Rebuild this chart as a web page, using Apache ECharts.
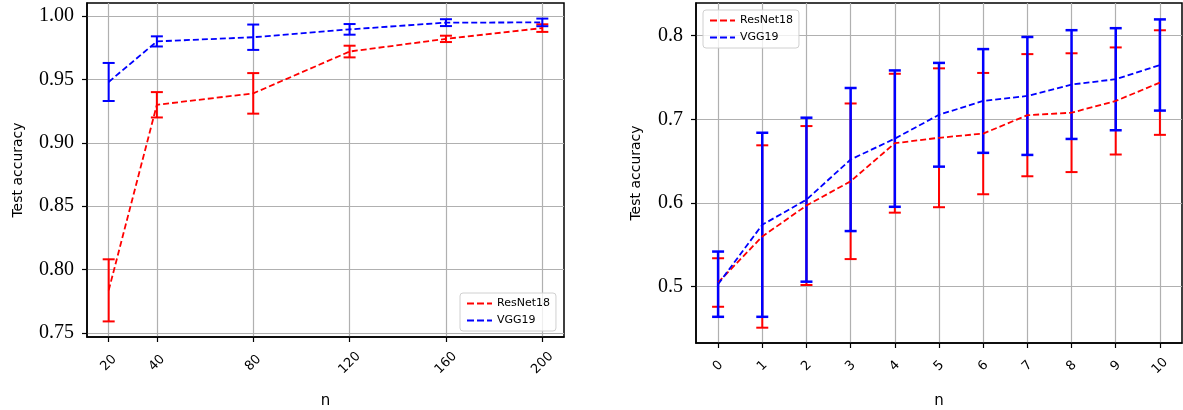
<!DOCTYPE html>
<html>
<head>
<meta charset="utf-8">
<script src="https://cdn.jsdelivr.net/npm/echarts@6/dist/echarts.min.js"></script>
<style>
  html, body { margin: 0; padding: 0; background: #fff; }
  #chart { width: 1183px; height: 410px; }
</style>
</head>
<body>
<div id="chart"></div>
<script>
// left panel: accuracy vs n
const leftN = [20, 40, 80, 120, 160, 200];
const leftResMean = [0.7836, 0.930, 0.939, 0.972, 0.982, 0.9905];
const leftResErr = [0.0245, 0.010, 0.016, 0.0046, 0.0025, 0.003];
const leftVggMean = [0.948, 0.980, 0.9833, 0.9895, 0.9948, 0.995];
const leftVggErr = [0.015, 0.004, 0.010, 0.0042, 0.0027, 0.003];
const leftYTicks = [0.75, 0.80, 0.85, 0.90, 0.95, 1.00];

// right panel
const rightN = [0, 1, 2, 3, 4, 5, 6, 7, 8, 9, 10];
const rightResMean = [0.505, 0.560, 0.597, 0.626, 0.6715, 0.678, 0.683, 0.705, 0.708, 0.722, 0.744];
const rightResErr = [0.029, 0.109, 0.095, 0.093, 0.083, 0.083, 0.0725, 0.073, 0.071, 0.064, 0.0625];
const rightVggMean = [0.503, 0.574, 0.604, 0.652, 0.677, 0.7055, 0.722, 0.728, 0.7416, 0.748, 0.765];
const rightVggErr = [0.039, 0.110, 0.098, 0.0855, 0.0815, 0.062, 0.062, 0.0705, 0.065, 0.061, 0.0545];
const rightYTicks = [0.5, 0.6, 0.7, 0.8];

const RED = '#ff0000';
const BLUE = '#0000ff';
const GRIDCOL = '#b0b0b0';
// dashed line icon for the legend
const DASH_ICON = 'path://M0,0h7v2h-7z M10,0h7v2h-7z M20,0h5v2h-5z';

function pairs(xs, ys) {
  return xs.map((x, i) => [x, ys[i]]);
}
function bars(xs, ys, es) {
  return xs.map((x, i) => [x, ys[i] - es[i], ys[i] + es[i]]);
}

function errRender(color, lw) {
  return function (params, api) {
    const x = api.value(0);
    const top = api.coord([x, api.value(2)]);
    const bot = api.coord([x, api.value(1)]);
    const hw = 6;
    const style = { stroke: color, lineWidth: lw };
    return {
      type: 'group',
      children: [
        { type: 'line', shape: { x1: top[0], y1: top[1], x2: bot[0], y2: bot[1] }, style },
        { type: 'line', shape: { x1: top[0] - hw, y1: top[1], x2: top[0] + hw, y2: top[1] }, style },
        { type: 'line', shape: { x1: bot[0] - hw, y1: bot[1], x2: bot[0] + hw, y2: bot[1] }, style }
      ]
    };
  };
}

function xAxisCfg(idx, min, max, ticks, gap, margin) {
  return {
    type: 'value', gridIndex: idx, min, max,
    name: 'n', nameLocation: 'middle', nameGap: gap,
    nameTextStyle: { fontFamily: 'DejaVu Sans', fontSize: 15, color: '#000' },
    axisLine: { show: true, onZero: false, lineStyle: { color: '#000', width: 1.5 } },
    axisTick: { show: true, length: 5, customValues: ticks, lineStyle: { color: '#000', width: 1.2 } },
    axisLabel: {
      customValues: ticks, rotate: 45, margin: margin, align: 'center', verticalAlign: 'middle',
      fontFamily: 'DejaVu Sans', fontSize: 13, color: '#000'
    },
    splitLine: { show: true, lineStyle: { color: GRIDCOL, width: 1.2 } }
  };
}

function yAxisCfg(idx, min, max, ticks, digits, gap) {
  return {
    type: 'value', gridIndex: idx, min, max,
    name: 'Test accuracy', nameLocation: 'middle', nameGap: gap,
    nameTextStyle: { fontFamily: 'DejaVu Sans', fontSize: 14, color: '#000' },
    axisLine: { show: true, onZero: false, lineStyle: { color: '#000', width: 1.5 } },
    axisTick: { show: true, length: 5, customValues: ticks, lineStyle: { color: '#000', width: 1.2 } },
    axisLabel: {
      customValues: ticks, margin: 13,
      formatter: v => v.toFixed(digits),
      fontFamily: 'Liberation Serif', fontSize: 20, color: '#000'
    },
    splitLine: { show: true, lineStyle: { color: GRIDCOL, width: 1.2 } }
  };
}

function lineSeries(name, idx, data, color) {
  return {
    type: 'line', name, xAxisIndex: idx, yAxisIndex: idx, data,
    symbol: 'none', z: 3,
    lineStyle: { color, width: 1.8, type: [6, 3] },
    itemStyle: { color },
    animation: false
  };
}
function errSeries(name, idx, data, color, lw) {
  return {
    type: 'custom', name, xAxisIndex: idx, yAxisIndex: idx, data,
    renderItem: errRender(color, lw), encode: { x: 0, y: [1, 2] },
    itemStyle: { color }, z: 2, animation: false
  };
}

function legendCfg(pos) {
  return Object.assign({
    orient: 'vertical',
    data: [
      { name: 'ResNet18', icon: DASH_ICON },
      { name: 'VGG19', icon: DASH_ICON }
    ],
    itemWidth: 25, itemHeight: 2, itemGap: 6,
    padding: [5, 6, 5, 7],
    backgroundColor: 'rgba(255,255,255,0.8)',
    borderColor: '#d0d0d0', borderWidth: 1, borderRadius: 3,
    textStyle: { fontFamily: 'DejaVu Sans', fontSize: 11, color: '#000', lineHeight: 11 }
  }, pos);
}

const chart = echarts.init(document.getElementById('chart'));
chart.setOption({
  backgroundColor: '#fff',
  animation: false,
  grid: [
    { left: 87, top: 3, width: 477, height: 334, outerBoundsMode: 'none', containLabel: false,
      show: true, borderColor: '#000', borderWidth: 1.5 },
    { left: 696, top: 3, width: 486, height: 340, outerBoundsMode: 'none', containLabel: false,
      show: true, borderColor: '#000', borderWidth: 1.5 }
  ],
  xAxis: [
    xAxisCfg(0, 11, 209, leftN, 57, 26),
    xAxisCfg(1, -0.5, 10.5, rightN, 51, 23)
  ],
  yAxis: [
    yAxisCfg(0, 0.7468, 1.0103, leftYTicks, 2, 62),
    yAxisCfg(1, 0.4327, 0.8391, rightYTicks, 1, 53)
  ],
  legend: [
    legendCfg({ left: 460, top: 293 }),
    legendCfg({ left: 703, top: 10 })
  ],
  series: [
    errSeries('ResNet18 err', 0, bars(leftN, leftResMean, leftResErr), RED, 2),
    lineSeries('ResNet18', 0, pairs(leftN, leftResMean), RED),
    errSeries('VGG19 err', 0, bars(leftN, leftVggMean, leftVggErr), BLUE, 2),
    lineSeries('VGG19', 0, pairs(leftN, leftVggMean), BLUE),
    errSeries('ResNet18 err', 1, bars(rightN, rightResMean, rightResErr), RED, 2),
    lineSeries('ResNet18', 1, pairs(rightN, rightResMean), RED),
    errSeries('VGG19 err', 1, bars(rightN, rightVggMean, rightVggErr), BLUE, 2.5),
    lineSeries('VGG19', 1, pairs(rightN, rightVggMean), BLUE)
  ]
});
</script>
</body>
</html>
